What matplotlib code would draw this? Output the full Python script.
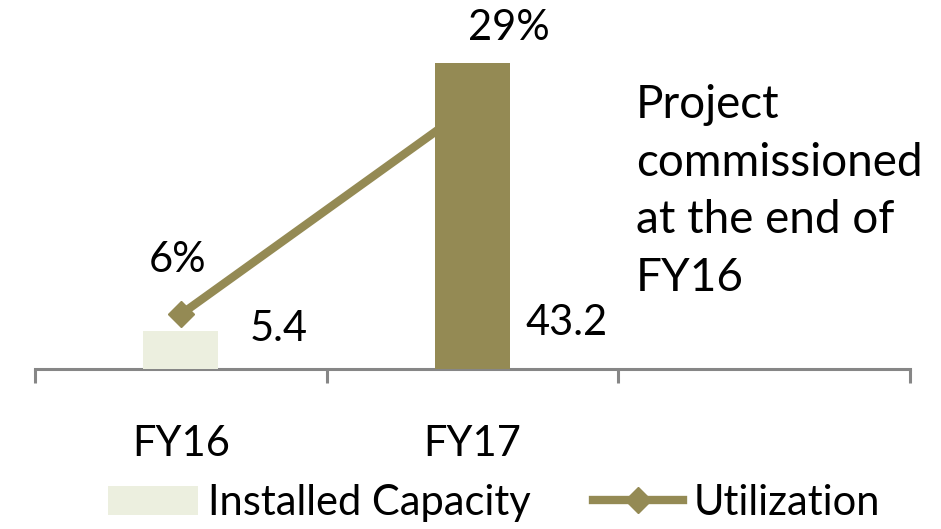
import matplotlib
matplotlib.use("Agg")
import matplotlib.pyplot as plt
from matplotlib.lines import Line2D
from matplotlib.patches import Patch

categories = ["FY16", "FY17", ""]
capacity = [5.4, 43.2]
utilization = [0.06, 0.29]
capacity_labels = ["5.4", "43.2"]
util_labels = ["6%", "29%"]
note = "Project\ncommissioned\nat the end of\nFY16"

FONT = "Lato"
plt.rcParams["font.family"] = [FONT, "DejaVu Sans"]

W, H = 941, 529
fig = plt.figure(figsize=(W / 100, H / 100), dpi=100)
ax = fig.add_axes([35 / W, (H - 369) / H, 875 / W, 354 / H])
ax2 = ax.twinx()

bar_colors = ["#ECEFDF", "#948A54"]
line_color = "#948A54"
xs = list(range(len(capacity)))

ax.bar(xs, capacity, width=0.257, color=bar_colors, zorder=3)
ax.set_ylim(0, 50)
ax.set_xlim(-0.5, 2.5)

ax2.plot(xs, utilization, color=line_color, lw=6, marker="D", markersize=13,
         solid_capstyle="round", zorder=2)
ax2.set_ylim(0, 0.3889)

# put bars above the line
ax.set_zorder(ax2.get_zorder() + 1)
ax.patch.set_visible(False)

for a in (ax, ax2):
    for s in ["top", "right", "left"]:
        a.spines[s].set_visible(False)
    a.set_yticks([])
ax2.spines["bottom"].set_visible(False)
ax2.set_xticks([])

ax.spines["bottom"].set_color("#868686")
ax.spines["bottom"].set_linewidth(2.2)
ax.set_xticks([-0.5, 0.5, 1.5, 2.5])
ax.set_xticklabels([])
ax.tick_params(axis="x", which="major", length=10, width=2.2, color="#868686", direction="out")
ax.set_xticks([0, 1, 2], minor=True)
ax.set_xticklabels(categories, minor=True, fontsize=30)
ax.tick_params(axis="x", which="minor", length=0, pad=40)

cap_offsets = [(98, 40), (94, 46)]
for x, v, lab, off in zip(xs, capacity, capacity_labels, cap_offsets):
    ax.annotate(lab, xy=(x, 0), xytext=off, textcoords="offset pixels",
                ha="center", va="center", fontsize=30)

util_offsets = [(-3, 54), (36, 77)]
for x, v, lab, off in zip(xs, utilization, util_labels, util_offsets):
    ax2.annotate(lab, xy=(x, v), xytext=off, textcoords="offset pixels",
                 ha="center", va="center", fontsize=30)

# multiline baseline alignment anchors the last line's baseline
fig.text(636 / W, 1 - 291 / H, note, fontsize=33, ha="left", va="baseline",
         linespacing=1.46)

handles = [Patch(facecolor=bar_colors[0], edgecolor="none"),
           Line2D([], [], color=line_color, lw=6, marker="D", markersize=13)]
fig.legend(handles, ["Installed Capacity", "Utilization"], loc="center",
           bbox_to_anchor=(0.525, 26 / H), ncol=2, frameon=False, fontsize=30,
           handlelength=2.15, handletextpad=0.25, columnspacing=1.5,
           borderpad=0, borderaxespad=0)

fig.savefig("out.png", dpi=100)
